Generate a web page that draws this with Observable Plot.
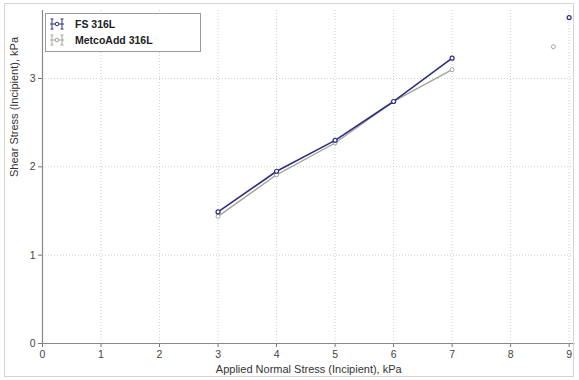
<!DOCTYPE html>
<html>
<head>
<meta charset="utf-8">
<script src="https://cdn.jsdelivr.net/npm/d3@7"></script>
<script src="https://cdn.jsdelivr.net/npm/@observablehq/plot@0.6"></script>
<style>
  html, body { margin: 0; padding: 0; background: #fff; }
  #wrap { position: relative; width: 579px; height: 380px; font-family: "Liberation Sans", Arial, sans-serif; }
  #border { position: absolute; left: 4px; top: 3px; width: 570px; height: 374px; border: 1px solid #d4d4d4; box-sizing: border-box; pointer-events: none; }
  #legend { position: absolute; left: 45px; top: 13px; width: 156px; height: 39px; border: 1px solid #9a9a9a; background: #fff; box-sizing: border-box; font-size: 10.5px; font-weight: bold; }
  .item { position: absolute; left: 4px; height: 14px; display: flex; align-items: center; }
  .item span { margin-left: 11px; }
</style>
</head>
<body>
<div id="wrap"><div id="chart"></div><div id="border"></div><div id="legend"></div></div>
<script>
const normalStress = [3, 4, 5, 6, 7];
const fsShear = [1.49, 1.95, 2.30, 2.74, 3.23];
const metcoShear = [1.44, 1.91, 2.27, 2.74, 3.10];
const fsExtra = {x: 9.0, y: 3.69};
const metcoExtra = {x: 8.73, y: 3.36};
const xTicks = [0, 1, 2, 3, 4, 5, 6, 7, 8, 9];
const yTicks = [0, 1, 2, 3];
const seriesNames = ["FS 316L", "MetcoAdd 316L"];
const seriesColors = ["#2f2f80", "#a4a49c"];

const fs = normalStress.map((x, i) => ({x, y: fsShear[i]}));
const metco = normalStress.map((x, i) => ({x, y: metcoShear[i]}));

const chart = Plot.plot({
  width: 579,
  height: 380,
  marginLeft: 42,
  marginRight: 4.5,
  marginTop: 10,
  marginBottom: 37,
  style: {fontFamily: "Liberation Sans, Arial, sans-serif", fontSize: "10.5px", color: "#333"},
  x: {domain: [0, 9.1], ticks: xTicks, tickFormat: d => d, label: null, tickSize: 4},
  y: {domain: [0, 3.77], ticks: yTicks, tickFormat: d => d, label: null, tickSize: 4},
  marks: [
    Plot.gridX(xTicks.slice(1), {stroke: "#d0d0d0", strokeDasharray: "1,2", strokeOpacity: 1}),
    Plot.gridY(yTicks.slice(1), {stroke: "#d0d0d0", strokeDasharray: "1,2", strokeOpacity: 1}),
    Plot.axisX({ticks: xTicks, tickFormat: d => d, tickSize: 4, stroke: "#777", fill: "#444", label: null, tickPadding: 3}),
    Plot.axisY({ticks: yTicks, tickFormat: d => d, tickSize: 4, stroke: "#777", fill: "#444", label: null, tickPadding: 3}),
    Plot.ruleX([0], {stroke: "#888", strokeWidth: 1.2}),
    Plot.ruleY([0], {stroke: "#888", strokeWidth: 1.2}),
    Plot.line(metco, {x: "x", y: "y", stroke: seriesColors[1], strokeWidth: 1.4}),
    Plot.dot(metco, {x: "x", y: "y", stroke: seriesColors[1], r: 2, strokeWidth: 1, fill: "#fff"}),
    Plot.dot([metcoExtra], {x: "x", y: "y", stroke: seriesColors[1], r: 2, strokeWidth: 1, fill: "#fff"}),
    Plot.line(fs, {x: "x", y: "y", stroke: seriesColors[0], strokeWidth: 1.6}),
    Plot.dot(fs, {x: "x", y: "y", stroke: seriesColors[0], r: 2, strokeWidth: 1.2, fill: "#fff"}),
    Plot.dot([fsExtra], {x: "x", y: "y", stroke: seriesColors[0], r: 2, strokeWidth: 1.2, fill: "#fff"}),
    Plot.text(["Applied Normal Stress (Incipient), kPa"], {frameAnchor: "bottom", dy: 29, fill: "#333", fontSize: 11}),
    Plot.text(["Shear Stress (Incipient), kPa"], {frameAnchor: "left", dx: -28, rotate: -90, fill: "#333", fontSize: 11})
  ]
});
document.getElementById("chart").appendChild(chart);

const legend = document.getElementById("legend");
seriesNames.forEach((name, i) => {
  const c = seriesColors[i];
  const div = document.createElement("div");
  div.className = "item";
  div.style.top = (3 + i * 16) + "px";
  div.innerHTML = `<svg width="14" height="12" viewBox="0 0 14 12">
    <line x1="0" y1="6" x2="14" y2="6" stroke="${c}" stroke-width="1"/>
    <line x1="2" y1="1" x2="2" y2="11" stroke="${c}" stroke-width="1"/>
    <line x1="0.5" y1="1" x2="3.5" y2="1" stroke="${c}"/><line x1="0.5" y1="11" x2="3.5" y2="11" stroke="${c}"/>
    <line x1="12" y1="1" x2="12" y2="11" stroke="${c}" stroke-width="1"/>
    <line x1="10.5" y1="1" x2="13.5" y2="1" stroke="${c}"/><line x1="10.5" y1="11" x2="13.5" y2="11" stroke="${c}"/>
    <circle cx="7" cy="6" r="1.8" fill="#fff" stroke="${c}"/>
  </svg><span style="color:#222">${name}</span>`;
  legend.appendChild(div);
});
</script>
</body>
</html>
